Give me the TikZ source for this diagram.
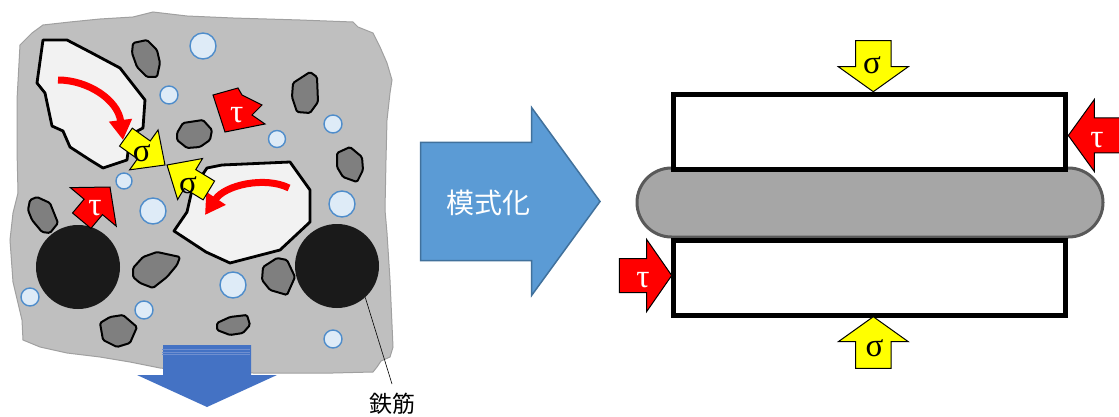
\documentclass[tikz,border=0pt]{standalone}
\usepackage{fontspec}
\newfontfamily\cjkfont{Noto Sans CJK JP}
\newfontfamily\grfont{Liberation Serif}
\usetikzlibrary{arrows.meta}

\definecolor{concretefill}{HTML}{BFBFBF}
\definecolor{concreteedge}{HTML}{A0A0A0}
\definecolor{aggfill}{HTML}{F2F2F2}
\definecolor{stonefill}{HTML}{7F7F7F}
\definecolor{bubblefill}{HTML}{DEEBF7}
\definecolor{bubbleedge}{HTML}{4F8DCB}
\definecolor{rebarfill}{HTML}{1A1A1A}
\definecolor{sigyellow}{HTML}{FFFF00}
\definecolor{taured}{HTML}{FF0000}
\definecolor{flowblue}{HTML}{4472C4}
\definecolor{flowstripe}{HTML}{6F8FD0}
\definecolor{modelblue}{HTML}{5B9BD5}
\definecolor{modeledge}{HTML}{41719C}
\definecolor{layerfill}{HTML}{A6A6A6}
\definecolor{layeredge}{HTML}{595959}

% block arrow: style, tip, direction, head length, head half width, shaft half width, shaft length
\newcommand{\blockarr}[7]{%
  \draw[#1, shift={#2}, rotate=#3]
    (0,0) -- (-#4,#5) -- (-#4,#6) -- (-#4-#7,#6) -- (-#4-#7,-#6)
    -- (-#4,-#6) -- (-#4,-#5) -- cycle;}

\begin{document}
\begin{tikzpicture}[x=1pt, y=-1pt,
  concrete/.style={fill=concretefill, draw=concreteedge, line width=1},
  agg/.style={fill=aggfill, draw=black, line width=2.8, line join=round},
  stone/.style={fill=stonefill, draw=black, line width=2, line join=round, rounded corners=1.5},
  bubble/.style={circle, fill=bubblefill, draw=bubbleedge, line width=1.4, inner sep=0},
  rebar/.style={circle, fill=rebarfill, inner sep=0, minimum size=84},
  redarc/.style={draw=taured, line width=7, -{Triangle[width=22pt,length=20pt]}},
  sigarrow/.style={fill=sigyellow, draw=black, line width=1, line join=miter},
  tauarrow/.style={fill=taured, draw=black, line width=1, line join=miter},
  sigtext/.style={font=\grfont\fontsize{33}{33}\selectfont, text=black, inner sep=0},
  tautext/.style={font=\grfont\fontsize{33}{33}\selectfont, text=white, inner sep=0},
  flowarrow/.style={fill=flowblue, draw=none},
  flowstripe/.style={draw=flowstripe, line width=0.8},
  modelarrow/.style={fill=modelblue, draw=modeledge, line width=1.5, line join=miter},
  layer/.style={fill=layerfill, draw=layeredge, line width=3},
  slab/.style={fill=white, draw=black, line width=5},
]
\useasboundingbox (0,0) rectangle (1119,417);

% ---------------- concrete section ----------------
\draw[concrete] (20,45) -- (32,33) -- (43,25) -- (70,22) -- (100,19) -- (133,17)
  -- (153,12) -- (170,14) -- (187,16) -- (233,18) -- (300,20) -- (353,22)
  -- (358,27) -- (373,33) -- (380,47) -- (387,63) -- (392,80) -- (390,93)
  -- (387,120) -- (386,160) -- (385,210) -- (387,233) -- (390,280) -- (393,347)
  -- (390,357) -- (381,361) -- (377,367) -- (373,372) -- (333,373) -- (253,373)
  -- (200,372) -- (160,368) -- (130,362) -- (100,357) -- (67,353) -- (40,347)
  -- (23,340) -- (22,320) -- (13,282) -- (10,240) -- (13,213) -- (18,193)
  -- (17,150) -- (17,100) -- cycle;

% air voids
\node[bubble, minimum size=26] (v1) at (203,46) {};
\node[bubble, minimum size=18] (v2) at (169,95) {};
\node[bubble, minimum size=17] (v3) at (277,139) {};
\node[bubble, minimum size=18] (v4) at (333,124) {};
\node[bubble, minimum size=16] (v5) at (124,181) {};
\node[bubble, minimum size=26] (v6) at (153,211) {};
\node[bubble, minimum size=26] (v7) at (342,204) {};
\node[bubble, minimum size=26] (v8) at (233,285) {};
\node[bubble, minimum size=18] (v9) at (30,297) {};
\node[bubble, minimum size=18] (v10) at (144,310) {};
\node[bubble, minimum size=18] (v11) at (333,339) {};

% coarse aggregate
\draw[stone] (133,43) -- (147,40) -- (157,50) -- (160,63) -- (157,77) -- (147,77) -- (137,67) -- (132,53) -- cycle;
\draw[stone] (293,83) -- (310,72) -- (317,77) -- (318,102) -- (310,113) -- (297,112) -- (292,97) -- cycle;
\draw[stone] (177,133) -- (183,123) -- (203,120) -- (212,130) -- (210,140) -- (200,147) -- (187,148) -- (177,140) -- cycle;
\draw[stone] (337,153) -- (350,147) -- (362,157) -- (363,170) -- (357,182) -- (343,177) -- (337,167) -- cycle;
\draw[stone] (30,200) -- (37,197) -- (50,203) -- (58,223) -- (50,233) -- (42,232) -- (32,220) -- (28,210) -- cycle;
\draw[stone] (133,268) -- (143,257) -- (157,252) -- (180,257) -- (177,265) -- (167,277) -- (153,288) -- (140,283) -- (133,277) -- cycle;
\draw[stone] (100,323) -- (110,317) -- (123,315) -- (137,327) -- (130,343) -- (117,347) -- (103,340) -- cycle;
\draw[stone] (263,267) -- (277,258) -- (287,260) -- (295,277) -- (287,295) -- (270,290) -- (262,280) -- cycle;
\draw[stone] (217,323) -- (230,317) -- (247,315) -- (250,325) -- (243,333) -- (230,335) -- (217,330) -- cycle;

% reinforcing bars
\node[rebar] (rebarL) at (78,267) {};
\node[rebar] (rebarR) at (337,266) {};

% large aggregate particles
\draw[agg] (43,40) -- (67,40) -- (90,52) -- (120,68) -- (145,100) -- (143,128) -- (130,135)
  -- (127,160) -- (103,168) -- (90,160) -- (70,147) -- (63,131) -- (52,126)
  -- (45,93) -- (37,83) -- cycle;
\draw[agg] (207,168) -- (222,165) -- (290,162) -- (310,190) -- (310,222) -- (280,250)
  -- (230,263) -- (206,252) -- (174,231) -- (187,212) -- (192,190) -- cycle;

% rotation of the particles
\draw[redarc] (58,80) .. controls (88,80) and (118,100) .. (123,140);
\draw[redarc] (289,188) .. controls (265,176) and (225,185) .. (205,215);

% contact stresses
\blockarr{sigarrow}{(165,165)}{-35.5}{26}{24.5}{11}{22}
\blockarr{sigarrow}{(167,165)}{148.7}{27}{24}{11}{22}
\node[sigtext] (sigA) at (141.7,153) {σ};
\node[sigtext] (sigB) at (188,185) {σ};

\draw[tauarrow] (213,95) -- (238,88) -- (242,95) -- (262,105) -- (252,115) -- (265,124) -- (225,132) -- cycle;
\blockarr{tauarrow}{(110,187)}{50}{26}{30}{12}{18}
\node[tautext] (tauA) at (236.7,115) {τ};
\node[tautext] (tauB) at (95,208) {τ};

% downward arrow under the section
\blockarr{flowarrow}{(207,407)}{-90}{32}{70}{44}{30}
\draw[flowstripe] (162,349) -- (250,349);
\draw[flowstripe] (162,352) -- (250,352);
\draw[flowstripe] (162,354.5) -- (250,354.5);

% rebar label
\coordinate (leaderend) at (392,384);
\draw[black, line width=0.6] (rebarR.-48) -- (leaderend);
\node[font=\cjkfont\fontsize{23}{23}\selectfont, inner sep=0] (rebartext) at (392,404) {鉄筋};

% ---------------- modelling arrow ----------------
\blockarr{modelarrow}{(600,201.5)}{0}{68.3}{93.8}{59}{111}
\node[font=\cjkfont\fontsize{28}{28}\selectfont, text=white, inner sep=0] (modeltext) at (488,203) {模式化};

% ---------------- simplified model ----------------
\draw[layer, rounded corners=34.5] (637,168) rectangle (1103,237);
\draw[slab] (673.5,94.2) rectangle (1065.8,169.2);
\draw[slab] (673.5,240.8) rectangle (1065.5,315.8);

\blockarr{sigarrow}{(873.3,91.7)}{-90}{25}{35}{17.8}{26}
\blockarr{sigarrow}{(873.3,316.7)}{90}{25}{35}{17.8}{26.7}
\node[sigtext] (sigC) at (872,65) {σ};
\node[sigtext] (sigD) at (874.5,348) {σ};

\blockarr{tauarrow}{(1068.3,135.5)}{180}{26}{36}{17.5}{45}
\blockarr{tauarrow}{(671.7,275.5)}{0}{25}{36}{17}{27.4}
\node[tautext] (tauC) at (1097,140) {τ};
\node[tautext] (tauD) at (643,280) {τ};
\end{tikzpicture}
\end{document}
